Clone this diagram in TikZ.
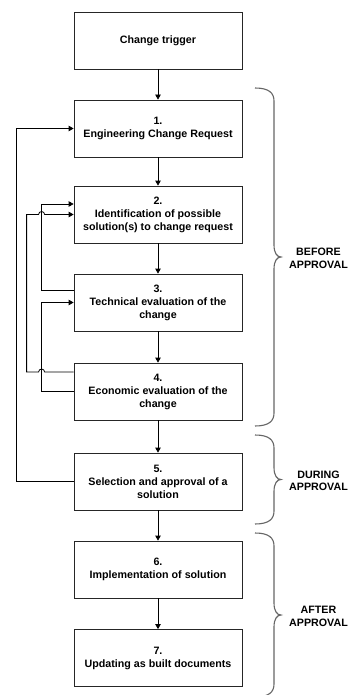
\documentclass[tikz,border=0pt]{standalone}
\usepackage{fontspec}
\setmainfont{Liberation Sans}
\usepackage{tikz}
\usetikzlibrary{arrows.meta, calc}
\tikzstyle{stepbox} = [draw=black!85, line width=0.8pt, minimum width=168pt, minimum height=57pt, inner sep=2pt, align=center, font=\bfseries\fontsize{10.7}{13}\selectfont]
\tikzstyle{arrow} = [line width=0.8pt, -{Triangle[length=5pt, width=5.5pt]}]

\begin{document}
\begin{tikzpicture}[x=1pt, y=-1pt, phase/.style={draw=black!60, line width=1.1pt}, phaselabel/.style={align=center, font=\bfseries\fontsize{10.7}{12.6}\selectfont}]
    \useasboundingbox (0,0) rectangle (350,695);
    \clip (0,0) rectangle (350,695);
    \foreach \n/\y/\t in {0/40.5/{Change trigger}, 1/128.5/{1.\\Engineering Change Request}, 2/214.5/{2.\\Identification of possible\\solution(s) to change request}, 3/302.5/{3.\\Technical evaluation of the\\change}, 4/391.5/{4.\\Economic evaluation of the\\change}, 5/481.5/{5.\\Selection and approval of a\\solution}, 6/569.5/{6.\\Implementation of solution}, 7/658/{7.\\Updating as built documents}}
        \node[stepbox] (s\n) at (158,\y) {\t};
    \foreach \a/\b in {0/1, 1/2, 2/3, 3/4, 4/5, 5/6, 6/7}
        \draw[arrow] (s\a) -- (s\b);
    \draw[arrow] (s5.west) -- ++(-57,0) |- (s1.west);
    \draw[arrow] ([yshift=12pt]s3.west) -- ++(-32,0) |- ([yshift=10.5pt]s2.west);
    \draw[arrow] (s4.west) -- ++(-32,0) |- (s3.west);
    \draw[arrow] ([yshift=19.5pt]s4.west) -- ++(-29,0) arc[start angle=0, end angle=180, radius=3pt] -- ++(-12,0) |- ([xshift=-35pt]s2.west) arc[start angle=180, end angle=0, radius=3pt] -- (s2.west);
    \foreach \t/\b/\w in {88/426/BEFORE, 435/524/DURING, 533/697/AFTER} {
        \pgfmathsetmacro\m{(\t+\b)/2}
        \draw[phase] (255,\t) .. controls (269,\t) and (274,\t+5) .. (274,\t+13) -- (274,\m-12) .. controls (274,\m-4) and (277,\m) .. (281,\m) .. controls (277,\m) and (274,\m+4) .. (274,\m+12) -- (274,\b-13) .. controls (274,\b-5) and (269,\b) .. (255,\b);
        \node[phaselabel] (p\w) at (318.5,\m+1.5) {\w\\APPROVAL};
    }
\end{tikzpicture}
\end{document}
